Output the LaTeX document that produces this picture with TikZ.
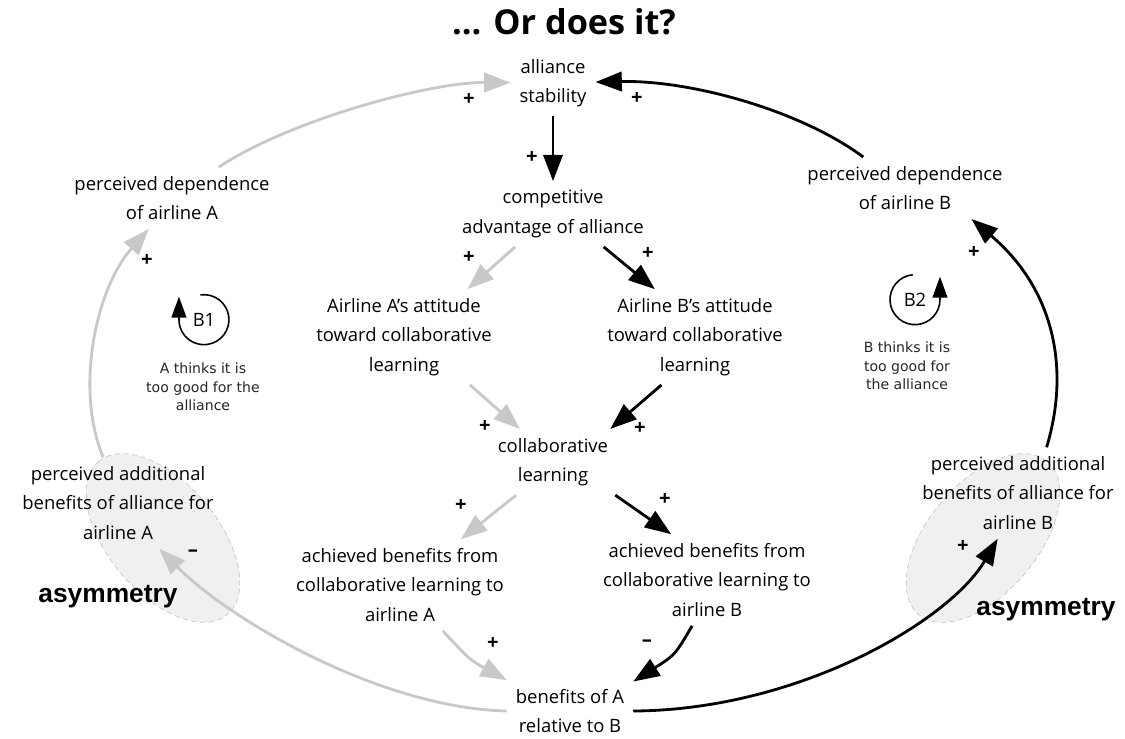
\documentclass[tikz,border=0pt]{standalone}
\usepackage{fontspec}
\setmainfont{Open Sans}
\newfontfamily\notefont{DejaVu Sans}
\newfontfamily\headfont{Liberation Sans}
\usetikzlibrary{arrows.meta, shapes.geometric}

\definecolor{linkgray}{RGB}{200,200,200}
\definecolor{asymfill}{RGB}{240,240,240}

\tikzset{
  var/.style={align=center, inner sep=5pt, font=\fontsize{10.5}{16.8}\selectfont},
  sign/.style={inner sep=0pt, font=\bfseries\fontsize{11.5}{12}\selectfont},
  note/.style={align=center, text=black!85, font=\notefont\fontsize{8}{10.5}\selectfont},
  asym/.style={ellipse, draw=linkgray, densely dashed, fill=asymfill, thin,
    minimum width=4cm, minimum height=2.2cm},
  linkA/.style={draw=linkgray, line width=1.6pt, -{Triangle[length=15pt,width=11pt]}},
  linkB/.style={draw=black, line width=1.6pt, -{Triangle[length=15pt,width=11pt]}},
  loopmark/.style={circle, minimum size=1cm, inner sep=0pt, font=\fontsize{10.5}{12}\selectfont},
  loopline/.style={line width=0.9pt, -{Triangle[length=12pt,width=8.5pt]}}
}

\begin{document}
\begin{tikzpicture}[x=0.02cm, y=-0.02cm]
\useasboundingbox (0,0) rectangle (1125,738);

% shaded areas
\node[asym, rotate=130] (ellA) at (163,538) {};
\node[asym, rotate=50] (ellB) at (983,538) {};

\node[font=\bfseries\fontsize{19.5}{22}\selectfont] (title) at (564,22) {... Or does it?};

% variables
\node[var] (stab) at (553,83) {alliance\\stability};
\node[var] (comp) at (553,214) {competitive\\advantage of alliance};
\node[var] (attA) at (404,337) {Airline A's attitude\\toward collaborative\\learning};
\node[var] (attB) at (695,337) {Airline B's attitude\\toward collaborative\\learning};
\node[var] (collab) at (553,462) {collaborative\\learning};
\node[var] (achA) at (400,585) {achieved benefits from\\collaborative learning to\\airline A};
\node[var] (achB) at (707,580) {achieved benefits from\\collaborative learning to\\airline B};
\node[var] (benef) at (570,711) {benefits of A\\relative to B};
\node[var] (depA) at (172,198) {perceived dependence\\of airline A};
\node[var] (depB) at (905,188) {perceived dependence\\of airline B};
\node[var] (padA) at (118,503) {perceived additional\\benefits of alliance for\\airline A};
\node[var] (padB) at (1018,493) {perceived additional\\benefits of alliance for\\airline B};

\node[font=\headfont\bfseries\fontsize{15}{18}\selectfont] (asymA) at (108,597) {asymmetry};
\node[font=\headfont\bfseries\fontsize{15}{18}\selectfont] (asymB) at (1046,610) {asymmetry};

% loops
\node[loopmark] (b1) at (204,320) {B1};
\draw[loopline] (b1.98) arc[start angle=98, end angle=-180, radius=0.5cm] -- ++(0,-23);
\node[note] (noteA) at (203,387) {A thinks it is\\too good for the\\alliance};

\node[loopmark] (b2) at (915,300) {B2};
\draw[loopline] (b2.95) arc[start angle=95, end angle=360, radius=0.5cm] -- ++(0,-23);
\node[note] (noteB) at (907,366) {B thinks it is\\too good for\\the alliance};

% links
\draw[linkA] (depA) .. controls (290,120) and (430,82) .. (stab);
\draw[linkB] (depB) .. controls (800,110) and (690,80) .. (stab);
\draw[linkB] (stab) -- (comp);
\draw[linkA] (comp.-139) -- (attA.37);
\draw[linkB] (comp.-33) -- (attB.130);
\draw[linkA] (attA.-36) -- (collab.135);
\draw[linkB] (attB.-125) -- (collab.30);
\draw[linkA] (collab.-138) -- (achA.37);
\draw[linkB] (collab.-28) -- (achB.128);
\draw[linkA] (achA.-47) .. controls (470,660) .. (benef.154);
\draw[linkB] (achB.-108) .. controls (675,655) .. (benef.25);
\draw[linkA] (benef.west) .. controls (380,708) and (230,620) .. (padA.-48);
\draw[linkB] (benef.east) .. controls (800,710) and (950,620) .. (padB.-114);
\draw[linkA] (padA.108) .. controls (75,390) and (95,290) .. (depA.-127);
\draw[linkB] (padB.58) .. controls (1070,370) and (1055,290) .. (depB.-25);

% polarities
\node[sign] (p1) at (469,99) {+};
\node[sign] (p2) at (637,98) {+};
\node[sign] (p3) at (532,157) {+};
\node[sign] (p4) at (469,257) {+};
\node[sign] (p5) at (648,253) {+};
\node[sign] (p6) at (485,426) {+};
\node[sign] (p7) at (640,428) {+};
\node[sign] (p8) at (461,505) {+};
\node[sign] (p9) at (665,499) {+};
\node[sign] (p10) at (493,643) {+};
\node[sign] (p11) at (647,643) {--};
\node[sign] (p12) at (193,553) {--};
\node[sign] (p13) at (963,546) {+};
\node[sign] (p14) at (147,260) {+};
\node[sign] (p15) at (974,252) {+};
\end{tikzpicture}
\end{document}
